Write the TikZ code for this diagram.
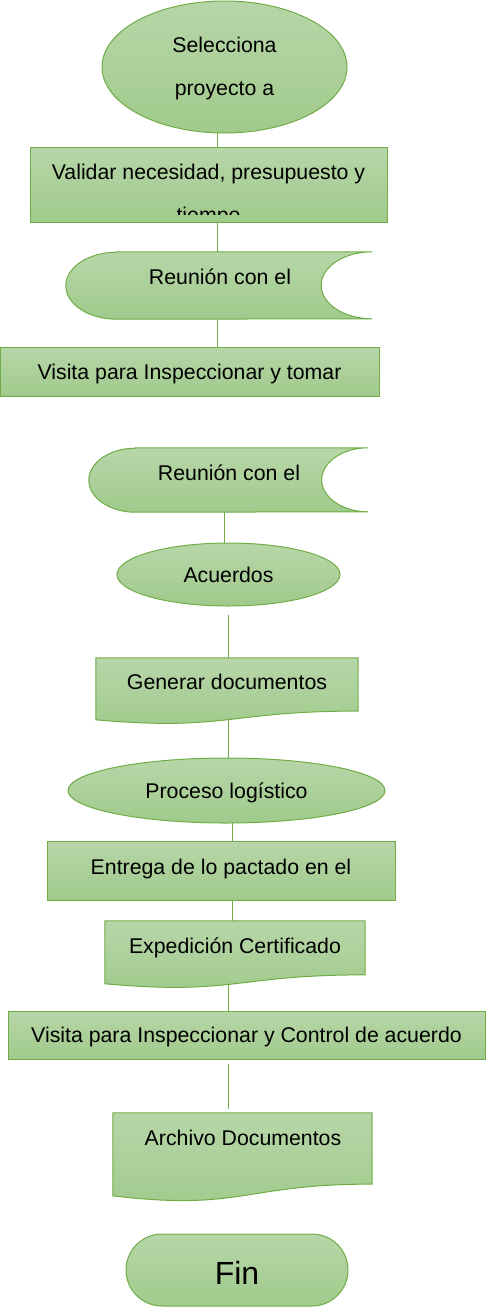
\documentclass[tikz,border=0pt]{standalone}
\usepackage{fontspec}
\setmainfont{Liberation Sans}
\usetikzlibrary{shapes.geometric,calc}

\definecolor{gtop}{RGB}{183,214,168}
\definecolor{gbot}{RGB}{160,202,140}
\definecolor{gline}{RGB}{112,173,71}

\pgfdeclarelayer{back}
\pgfsetlayers{back,main}

% document symbol drawn on an empty holder node
\newcommand{\docbox}[1]{%
  \path[shp] (#1.north west) -- (#1.north east) -- ($(#1.north east)!0.802!(#1.south east)$)
    .. controls ($(#1.north)!0.802!(#1.south)$) and ($(#1.north)!1.1075!(#1.south)$)
    .. ($(#1.north west)!0.934!(#1.south west)$) -- cycle;}

\begin{document}
\begin{tikzpicture}[x=1pt, y=-1pt, font=\fontsize{21.3}{43}\selectfont,
    shp/.style ={draw=gline, line width=1pt, top color=gtop, bottom color=gbot},
    box/.style ={shp, rectangle, inner sep=0pt, text height=15.2pt, text depth=0pt},
    oval/.style ={shp, ellipse, inner sep=0pt, text height=15.2pt, text depth=0pt},
    holder/.style ={rectangle, inner sep=0pt},
    txt/.style ={inner sep=0pt, text height=15.2pt, text depth=0pt},
    link/.style ={draw=gline, line width=1pt}]
   \useasboundingbox (0,0) rectangle (486,1309);

   \node[oval, minimum width=245, minimum height=132] (sel) at (224.5,67) {};
   \node[anchor=north, align=center, inner sep=0pt] (selt) at (224.5,36.6) {\rule{0pt}{16pt}Selecciona\\proyecto a};

   \node[box, minimum width=357, minimum height=75] (val) at (208.5,184.5) {};
   \begin{scope}
     \clip (val.north west) rectangle ([yshift=8pt]val.south east);
     \node[anchor=north, align=center, inner sep=0pt] (valt) at (208.5,163) {\rule{0pt}{16pt}Validar necesidad, presupuesto y\\tiempo};
   \end{scope}

   \node[holder, minimum width=306, minimum height=67] (reu1) at (219,285.5) {};
   \path[shp] ([xshift=51pt]reu1.north west) -- (reu1.north east)
     arc[start angle=90, end angle=270, x radius=51pt, y radius=33.5pt]
     -- ([xshift=51pt]reu1.south west)
     arc[start angle=270, end angle=90, x radius=51pt, y radius=33.5pt] -- cycle;
   \node[txt] (reu1t) at (220,277) {Reunión con el};

   \node[box, minimum width=379, minimum height=49] (vis1) at (189.5,371.5) {Visita para Inspeccionar y tomar};

   \node[holder, minimum width=279, minimum height=64] (reu2) at (228.5,480) {};
   \path[shp] ([xshift=46.5pt]reu2.north west) -- (reu2.north east)
     arc[start angle=90, end angle=270, x radius=46.5pt, y radius=32pt]
     -- ([xshift=46.5pt]reu2.south west)
     arc[start angle=270, end angle=90, x radius=46.5pt, y radius=32pt] -- cycle;
   \node[txt] (reu2t) at (229,473) {Reunión con el};

   \node[oval, minimum width=223, minimum height=63] (acu) at (228.5,574.5) {Acuerdos};

   \node[holder, minimum width=262, minimum height=66] (gen) at (227,691) {};
   \docbox{gen}
   \node[txt] (gent) at (227,682) {Generar documentos};

   \node[oval, minimum width=317, minimum height=65] (pro) at (226.5,790.5) {Proceso logístico};

   \node[box, minimum width=348, minimum height=59, text depth=7pt] (ent) at (221,870.5) {Entrega de lo pactado en el};

   \node[holder, minimum width=260, minimum height=67] (exp) at (235,954.5) {};
   \docbox{exp}
   \node[txt] (expt) at (235,946) {Expedición Certificado};

   \node[box, minimum width=477, minimum height=48] (vis2) at (246.5,1035) {Visita para Inspeccionar y Control de acuerdo};

   \node[holder, minimum width=259, minimum height=88.5] (arc) at (242.5,1157.25) {};
   \docbox{arc}
   \node[txt] (arct) at (243,1138) {Archivo Documentos};

   \node[shp, rectangle, rounded corners=36pt, inner sep=0pt, minimum width=222, minimum height=72,
     font=\fontsize{32}{38}\selectfont, text height=29pt, text depth=0pt] (fin) at (237,1270) {Fin};

   % connectors behind the shapes
   \coordinate (xa) at (217,0);
   \coordinate (xb) at (224,0);
   \coordinate (xc) at (228,0);
   \coordinate (xd) at (232,0);
   \begin{pgfonlayer}{back}
   \draw[link] (sel -| xa) -- (val -| xa);
   \draw[link] (val -| xa) -- (reu1 -| xa);
   \draw[link] (reu1 -| xa) -- (vis1 -| xa);
   \draw[link] (reu2 -| xb) -- (acu -| xb);
   \draw[link, shorten <=8pt] (acu.south -| xc) -- (gen -| xc);
   \draw[link] (gen -| xc) -- (pro -| xc);
   \draw[link] (pro -| xd) -- (ent -| xd);
   \draw[link] (ent -| xd) -- (exp -| xd);
   \draw[link] (exp -| xc) -- (vis2 -| xc);
   \draw[link, shorten <=4pt, shorten >=4pt] (vis2.south -| xc) -- (arc.north -| xc);
   \end{pgfonlayer}
 \end{tikzpicture}
\end{document}
